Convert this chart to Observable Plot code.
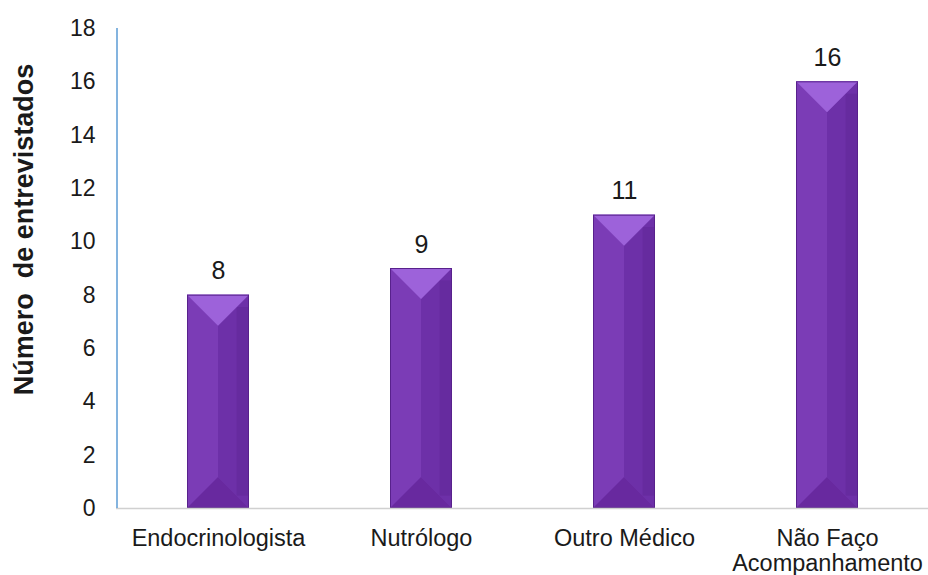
<!DOCTYPE html>
<html>
<head>
<meta charset="utf-8">
<script src="https://cdn.jsdelivr.net/npm/d3@7"></script>
<script src="https://cdn.jsdelivr.net/npm/@observablehq/plot@0.6"></script>
<style>
  body { margin: 0; background: #fff; }
  #chart svg { font-family: "Liberation Sans", Arial, sans-serif; }
</style>
</head>
<body>
<div id="chart"></div>
<script>
const categories = ["Endocrinologista", "Nutrólogo", "Outro Médico", "Não Faço\nAcompanhamento"];
const values = [8, 9, 11, 16];
const yTicks = [0, 2, 4, 6, 8, 10, 12, 14, 16, 18];
const yLabel = "Número  de entrevistados";

const data = categories.map((c, i) => ({category: c, value: values[i]}));

function bevel(index, scales, vals, dims, ctx, next) {
  const g = next(index, scales, vals, dims, ctx);
  d3.select(g).selectAll("rect").each(function() {
    const r = d3.select(this);
    const x = +r.attr("x"), y = +r.attr("y"), w = +r.attr("width"), h = +r.attr("height");
    const d = Math.min(w / 2, h / 2);
    const parent = d3.select(this.parentNode);
    parent.append("polygon")
      .attr("points", `${x + w/2},${y + d} ${x + w},${y} ${x + w},${y + h} ${x + w/2},${y + h - d}`)
      .attr("fill", "#6d30a8");
    parent.append("rect")
      .attr("x", x + w * 0.8).attr("y", y + d * 0.4).attr("width", w * 0.2).attr("height", Math.max(0, h - d * 0.8))
      .attr("fill", "#5f2596").attr("opacity", 0.5);
    parent.append("polygon")
      .attr("points", `${x},${y} ${x + w},${y} ${x + w/2},${y + d}`)
      .attr("fill", "#9d62da");
    parent.append("polygon")
      .attr("points", `${x},${y + h} ${x + w},${y + h} ${x + w/2},${y + h - d}`)
      .attr("fill", "#68299f");
    parent.append("rect")
      .attr("x", x + 0.5).attr("y", y + 0.5).attr("width", w - 1).attr("height", h - 1)
      .attr("fill", "none").attr("stroke", "#58218c").attr("stroke-width", 1);
  });
  return g;
}

const chart = Plot.plot({
  width: 928,
  height: 575,
  marginLeft: 116,
  marginRight: 0,
  marginTop: 28,
  marginBottom: 67,
  style: {fontFamily: "Liberation Sans, Arial, sans-serif", background: "#fff"},
  x: {domain: categories, paddingInner: 0.695, paddingOuter: 0.3475, label: null},
  y: {domain: [0, 18], label: null},
  marks: [
    Plot.barY(data, {x: "category", y: "value", fill: "#7b3cb6", render: bevel}),
    Plot.ruleY([0], {stroke: "#d0d0d0", strokeWidth: 1.5}),
    Plot.ruleX([0], {x: null, y1: 0, y2: 18, dx: -405.5, stroke: "#5b9bd5", strokeWidth: 1.5}),
    Plot.axisY({ticks: yTicks, tickSize: 0, tickPadding: 21, fontSize: 23, fill: "#1a1a1a", label: null}),
    Plot.axisX({tickSize: 0, tickPadding: 19, fontSize: 23.5, fill: "#1a1a1a", lineHeight: 1.08, label: null}),
    Plot.text(data, {x: "category", y: "value", text: d => String(d.value), lineAnchor: "bottom", dy: -16, fontSize: 25, fill: "#1a1a1a"}),
    Plot.text([yLabel], {frameAnchor: "left", textAnchor: "middle", dx: -92, dy: -39, rotate: -90, fontSize: 27, fontWeight: "bold", fill: "#1a1a1a"})
  ]
});
document.getElementById("chart").appendChild(chart);
</script>
</body>
</html>
